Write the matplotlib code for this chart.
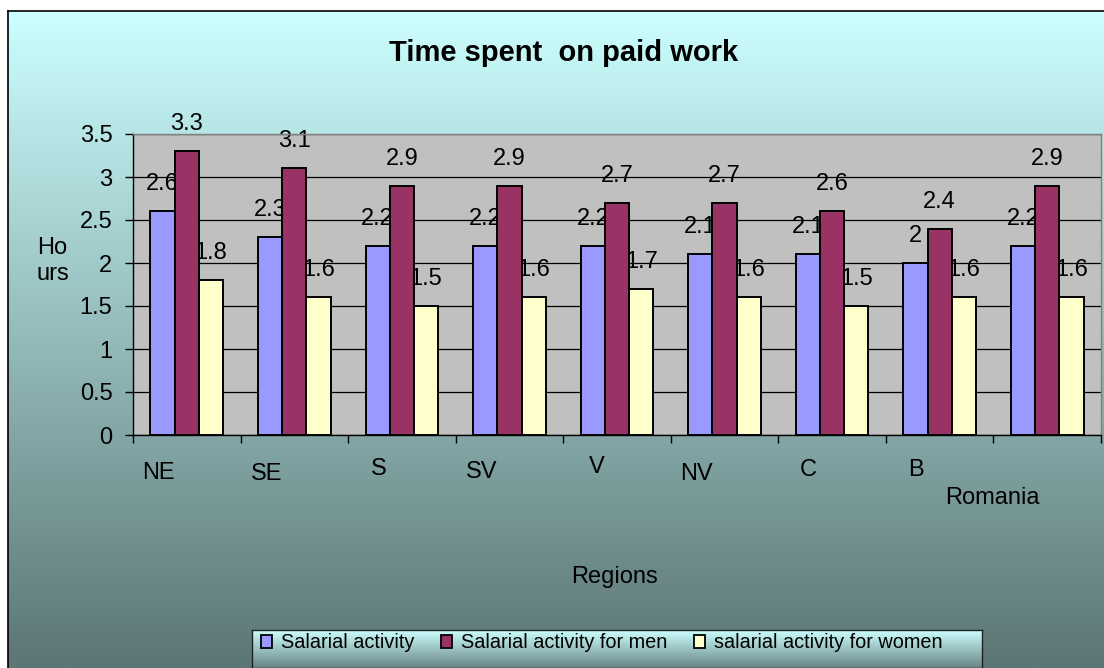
import numpy as np
import matplotlib
matplotlib.use("Agg")
import matplotlib.pyplot as plt
from matplotlib.patches import Patch

plt.rcParams['font.family'] = ['Liberation Sans', 'DejaVu Sans']

# ---- data ----
regions = ["NE", "SE", "S", "SV", "V", "NV", "C", "B", "Romania"]
series_names = ["Salarial activity", "Salarial activity for men", "salarial activity for women"]
salarial = [2.6, 2.3, 2.2, 2.2, 2.2, 2.1, 2.1, 2.0, 2.2]
men = [3.3, 3.1, 2.9, 2.9, 2.7, 2.7, 2.6, 2.4, 2.9]
women = [1.8, 1.6, 1.5, 1.6, 1.7, 1.6, 1.5, 1.6, 1.6]
yticks = [0, 0.5, 1, 1.5, 2, 2.5, 3, 3.5]
ytick_labels = ["0", "0.5", "1", "1.5", "2", "2.5", "3", "3.5"]

# ---- style ----
colors = ["#9999FF", "#993366", "#FFFFCC"]
label_offsets = [(-28, -38), (-28, -39.5), (-23, -34), (-28, -37.5), (-20, -32),
                 (-28, -39), (-24, -35), (-24, -35), (-55, -63)]

W, H = 1104, 668
fig = plt.figure(figsize=(W / 100, H / 100), dpi=100)
fig.patch.set_facecolor("white")

def fx(px):
    return px / W

def fy(py):
    return 1 - py / H

# background gradient
bg = fig.add_axes([fx(8), 0, 1 - fx(8), fy(11)], zorder=0)
top = np.array([204, 255, 255]) / 255
bot = np.array([92, 117, 117]) / 255
t = np.linspace(0, 1, 256)[:, None]
grad = (top[None, :] * (1 - t) + bot[None, :] * t)[:, None, :]
bg.imshow(grad, aspect="auto", extent=[0, 1, 0, 1], origin="upper")
bg.set_xlim(0, 1)
bg.set_ylim(0, 1)
bg.set_xticks([])
bg.set_yticks([])
for s in ["right", "bottom"]:
    bg.spines[s].set_visible(False)
for s in ["left", "top"]:
    bg.spines[s].set_color("black")
    bg.spines[s].set_linewidth(1.2)

# main axes
ax = fig.add_axes([fx(133), fy(435), fx(1101) - fx(133), fy(134) - fy(435)], zorder=2)
ax.set_facecolor("#C0C0C0")
n = len(regions)
x = np.arange(n)
bw = 0.225
for k, (vals, c) in enumerate(zip([salarial, men, women], colors)):
    pos = x + (k - 1) * bw
    ax.bar(pos, vals, width=bw, color=c, edgecolor="black", linewidth=1.4, zorder=3)
    for xp, v in zip(pos, vals):
        ax.annotate(f"{v:g}", xy=(xp, v), xytext=(0, 27), textcoords="offset pixels",
                    ha="center", va="center", fontsize=17, zorder=2)

ax.set_xlim(-0.5, n - 0.5)
ax.set_ylim(0, 3.5)
ax.set_yticks(yticks)
ax.set_yticklabels(ytick_labels, fontsize=17)
ax.set_xticks(np.arange(-0.5, n, 1))
ax.set_xticklabels([])
ax.tick_params(axis="both", direction="out", length=5.8, width=1, color="black")
ax.tick_params(axis="y", pad=9)
ax.yaxis.grid(True, color="black", linewidth=0.9, zorder=1)
ax.set_axisbelow(True)
ax.spines["left"].set_color("black")
ax.spines["bottom"].set_color("black")
ax.spines["top"].set_color("#808080")
ax.spines["right"].set_color("#808080")
for s in ax.spines.values():
    s.set_linewidth(1.0)

for i, (lab, (dx, dy)) in enumerate(zip(regions, label_offsets)):
    ax.annotate(lab, xy=(i, 0), xytext=(dx, dy), textcoords="offset pixels",
                ha="center", va="center", fontsize=17, annotation_clip=False)

# texts
fig.text(fx(564), fy(53), "Time spent  on paid work", ha="center", va="center",
         fontsize=21, fontweight="bold", zorder=5)
fig.text(fx(37), fy(261), "Ho\nurs", ha="left", va="center", fontsize=17, zorder=5)
fig.text(fx(614.5), fy(577), "Regions", ha="center", va="center", fontsize=17, zorder=5)

# legend background
lg = fig.add_axes([fx(252), 0, fx(982) - fx(252), fy(630)], zorder=3)
ltop = np.array([204, 255, 255]) / 255
lbot = np.array([105, 132, 132]) / 255
lgrad = (ltop[None, :] * (1 - t) + lbot[None, :] * t)[:, None, :]
lg.imshow(lgrad, aspect="auto", extent=[0, 1, 0, 1], origin="upper")
lg.set_xlim(0, 1)
lg.set_ylim(0, 1)
lg.set_xticks([])
lg.set_yticks([])
for s in lg.spines.values():
    s.set_color("#202020")
    s.set_linewidth(1.0)

handles = [Patch(facecolor=c, edgecolor="black", linewidth=1.3) for c in colors]
leg = fig.legend(handles, series_names, ncol=3, frameon=False, loc="center left",
                 bbox_to_anchor=(fx(261), fy(643)), borderpad=0, borderaxespad=0,
                 handlelength=0.55, handleheight=0.6, handletextpad=0.45,
                 columnspacing=1.35, fontsize=14.3)
leg.set_zorder(6)

fig.savefig("out.png", dpi=100)
